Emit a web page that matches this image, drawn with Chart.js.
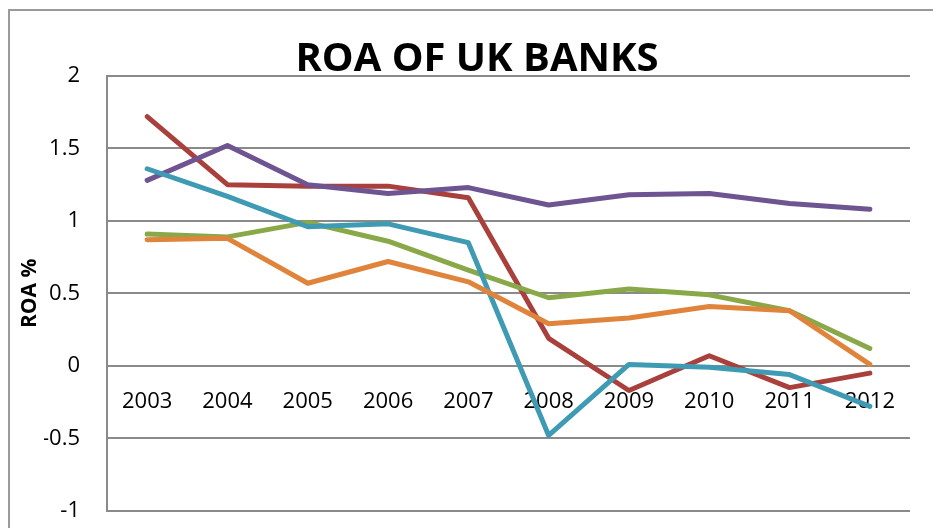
<!DOCTYPE html>
<html>
<head>
<meta charset="utf-8">
<title>ROA of UK banks</title>
<script src="https://cdn.jsdelivr.net/npm/chart.js@4"></script>
<style>
  html, body { margin: 0; padding: 0; background: #fff; }
  #wrap { position: relative; width: 933px; height: 528px; overflow: hidden; }
  #frame { position: absolute; left: 8px; top: 9px; width: 1000px; height: 600px;
           border-left: 2px solid #9a9a9a; border-top: 2px solid #9a9a9a; }
  #roaChart { position: absolute; left: 0; top: 0; }
</style>
</head>
<body>
<div id="wrap">
  <div id="frame"></div>
  <!-- canvas runs past the bottom edge: the floating x axis keeps a strip
       below the plot that is clipped off by the wrapper -->
  <canvas id="roaChart" width="933" height="551"></canvas>
</div>
<script>
// years on the category axis
const years = ['2003', '2004', '2005', '2006', '2007', '2008', '2009', '2010', '2011', '2012'];

// return on assets, % per bank
const roaRed    = [1.72, 1.25, 1.24, 1.24, 1.16, 0.19, -0.17, 0.07, -0.15, -0.05];
const roaGreen  = [0.91, 0.89, 0.99, 0.86, 0.66, 0.47, 0.53, 0.49, 0.38, 0.12];
const roaPurple = [1.28, 1.52, 1.25, 1.19, 1.23, 1.11, 1.18, 1.19, 1.12, 1.08];
const roaTeal   = [1.36, 1.17, 0.96, 0.98, 0.85, -0.48, 0.01, -0.01, -0.06, -0.28];
const roaOrange = [0.87, 0.88, 0.57, 0.72, 0.58, 0.29, 0.33, 0.41, 0.38, 0.01];

const gridGrey = '#8a8a8a';
const tickFont = { family: "'Open Sans', sans-serif", size: 22 };

function line(label, data, color) {
    return {
        label: label,
        data: data,
        borderColor: color,
        backgroundColor: color,
        borderWidth: 5,
        borderCapStyle: 'round',
        borderJoinStyle: 'round',
        pointRadius: 0,
        tension: 0,
        fill: false
    };
}

const ctx = document.getElementById('roaChart');
const chart = new Chart(ctx, {
    type: 'line',
    data: {
        labels: years,
        // first dataset is drawn on top
        datasets: [
            line('Bank E', roaOrange, '#df843a'),
            line('Bank D', roaTeal, '#3e9bb3'),
            line('Bank C', roaPurple, '#6e5490'),
            line('Bank B', roaGreen, '#89a949'),
            line('Bank A', roaRed, '#a9403c')
        ]
    },
    options: {
        responsive: false,
        animation: false,
        layout: {
            // uneven side padding pushes the title a little right of centre
            padding: { top: 0, left: 44, right: 23, bottom: 17 }
        },
        plugins: {
            legend: { display: false },
            tooltip: { enabled: false },
            title: {
                display: true,
                text: 'ROA OF UK BANKS',
                color: '#000',
                font: { family: "'Open Sans', sans-serif", size: 40, weight: 'bold', lineHeight: 1 },
                padding: { top: 40, bottom: -4 }
            }
        },
        scales: {
            x: {
                position: { y: 0 }, // labels hang just under the zero line
                offset: true,
                grid: { display: false, drawTicks: false },
                border: { display: false },
                ticks: {
                    color: '#000',
                    font: tickFont,
                    padding: 23,
                    maxRotation: 0,
                    autoSkip: false
                }
            },
            y: {
                min: -1,
                max: 2,
                afterFit: (scale) => { scale.width = 63; },
                grid: { color: gridGrey, lineWidth: 2, drawTicks: false },
                border: { color: gridGrey, width: 2 },
                ticks: {
                    stepSize: 0.5,
                    color: '#000',
                    font: tickFont,
                    padding: 27,
                    callback: (value) => String(Math.round(value * 10) / 10)
                },
                title: {
                    display: true,
                    text: 'ROA %',
                    color: '#000',
                    font: { family: "'Open Sans', sans-serif", size: 21, weight: 'bold', lineHeight: 1 },
                    padding: { top: -24.5, bottom: 0 }
                }
            }
        }
    }
});
</script>
</body>
</html>
